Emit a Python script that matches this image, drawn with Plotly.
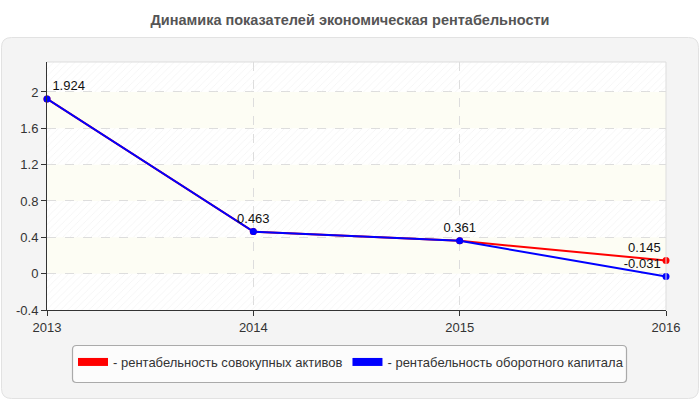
import plotly.graph_objects as go

# ---- data ----
years = [2013, 2014, 2015, 2016]
assets_rent = [1.924, 0.463, 0.361, 0.145]      # рентабельность совокупных активов
capital_rent = [1.924, 0.463, 0.361, -0.031]    # рентабельность оборотного капитала
series_names = ["- рентабельность совокупных активов", "- рентабельность оборотного капитала"]
y_ticks = [-0.4, 0, 0.4, 0.8, 1.2, 1.6, 2]
y_ticktext = ["-0.4", "0", "0.4", "0.8", "1.2", "1.6", "2"]
title_text = "Динамика показателей экономическая рентабельности"

W, H = 700, 400
L, R, T, B = 47, 666, 62, 310
Y_MAX = 2.33
Y_MIN = -0.4


def px(x):
    return (x - L) / (R - L)


def py(y):
    return (B - y) / (B - T)


def rounded(x0, y0, x1, y1, r):
    def P(x, y):
        return f"{px(x):.5f},{py(y):.5f}"
    return (f"M{P(x0 + r, y0)} L{P(x1 - r, y0)} Q{P(x1, y0)} {P(x1, y0 + r)} "
            f"L{P(x1, y1 - r)} Q{P(x1, y1)} {P(x1 - r, y1)} L{P(x0 + r, y1)} "
            f"Q{P(x0, y1)} {P(x0, y1 - r)} L{P(x0, y0 + r)} Q{P(x0, y0)} {P(x0 + r, y0)} Z")


fig = go.Figure()

# hatched background bands (every other band between ticks)
edges = y_ticks + [Y_MAX]
for i in range(len(edges) - 1):
    lo, hi = edges[i], edges[i + 1]
    if i % 2 == 0:
        fig.add_trace(go.Scatter(
            x=[years[0], years[-1], years[-1], years[0], years[0]],
            y=[lo, lo, hi, hi, lo], mode="lines", fill="toself",
            fillcolor="rgba(0,0,0,0)", line=dict(width=0),
            fillpattern=dict(shape="/", fgcolor="#e6e6e6", bgcolor="rgba(0,0,0,0)",
                             size=5, solidity=0.15, fillmode="overlay"),
            hoverinfo="skip", showlegend=False))

shapes = []
# panel
shapes.append(dict(type="path", xref="paper", yref="paper", layer="below",
                   path=rounded(1.5, 37.5, 698.5, 398.5, 10),
                   fillcolor="#f4f4f4", line=dict(color="#e2e2e2", width=1)))
# legend box
shapes.append(dict(type="path", xref="paper", yref="paper", layer="below",
                   path=rounded(72.5, 345.5, 626.5, 382.5, 4),
                   fillcolor="#fcfcfc", line=dict(color="#aaaaaa", width=1.2)))
# plot area white
shapes.append(dict(type="rect", xref="x", yref="y", layer="below",
                   x0=years[0], x1=years[-1], y0=Y_MIN, y1=Y_MAX,
                   fillcolor="white", line=dict(width=0)))
# yellow bands
for i in range(len(edges) - 1):
    if i % 2 == 1:
        shapes.append(dict(type="rect", xref="x", yref="y", layer="below",
                           x0=years[0], x1=years[-1], y0=edges[i], y1=edges[i + 1],
                           fillcolor="#fdfdf4", line=dict(width=0)))
# light border top/right
shapes.append(dict(type="path", xref="paper", yref="paper", layer="above",
                   path="M0,1 L1,1 L1,0", line=dict(color="#dddddd", width=1)))

textpos = ["top right", "top center", "top center", "top left"]

for idx, (vals, color, name) in enumerate([(assets_rent, "#ff0000", series_names[0]),
                                           (capital_rent, "#0000ff", series_names[1])]):
    if idx == 0:
        # labels identical to the other series are drawn only once
        labels = [f"{v:g}" if v != c else "" for v, c in zip(vals, capital_rent)]
    else:
        labels = [f"{v:g}" for v in vals]
    fig.add_trace(go.Scatter(
        x=years, y=vals, mode="lines+markers+text", name=name,
        line=dict(color=color, width=2), marker=dict(color=color, size=7),
        text=labels, textposition=textpos,
        textfont=dict(family="Liberation Sans, Arial", size=13, color="#111111"),
        cliponaxis=False, showlegend=False))
    fig.add_trace(go.Scatter(
        x=[None], y=[None], mode="lines", name=name,
        line=dict(color=color, width=8), showlegend=True))

fig.update_layout(
    width=W, height=H, autosize=False,
    margin=dict(l=L, r=W - R, t=T, b=H - B, pad=0),
    paper_bgcolor="white", plot_bgcolor="white",
    font=dict(family="Liberation Sans, Arial", size=13, color="#333333"),
    title=dict(text=f"<b>{title_text}</b>", x=0.5, xref="container", xanchor="center",
               y=1 - 20 / H, yref="container", yanchor="middle",
               font=dict(family="Liberation Sans, Arial", size=14.5, color="#555555")),
    shapes=shapes,
    showlegend=True,
    legend=dict(orientation="h", x=px(73), xanchor="left", y=py(347), yanchor="top",
                bgcolor="rgba(0,0,0,0)", borderwidth=0,
                font=dict(family="Liberation Sans, Arial", size=13, color="#333333"),
                itemwidth=30),
    xaxis=dict(range=[years[0], years[-1]], tickvals=years, ticktext=[str(y) for y in years],
               ticks="outside", ticklen=5, tickcolor="#333333", showline=True,
               linecolor="#333333", linewidth=1, showgrid=True, gridcolor="#dddddd",
               griddash="dash", zeroline=False, fixedrange=True,
               tickfont=dict(size=13, color="#333333")),
    yaxis=dict(range=[Y_MIN, Y_MAX], tickvals=y_ticks, ticktext=y_ticktext,
               ticks="outside", ticklen=5, tickcolor="#333333", showline=True,
               linecolor="#333333", linewidth=1, showgrid=True, gridcolor="#dddddd",
               griddash="dash", zeroline=False, fixedrange=True,
               tickfont=dict(size=13, color="#333333")),
)

fig.write_html("out.html")
